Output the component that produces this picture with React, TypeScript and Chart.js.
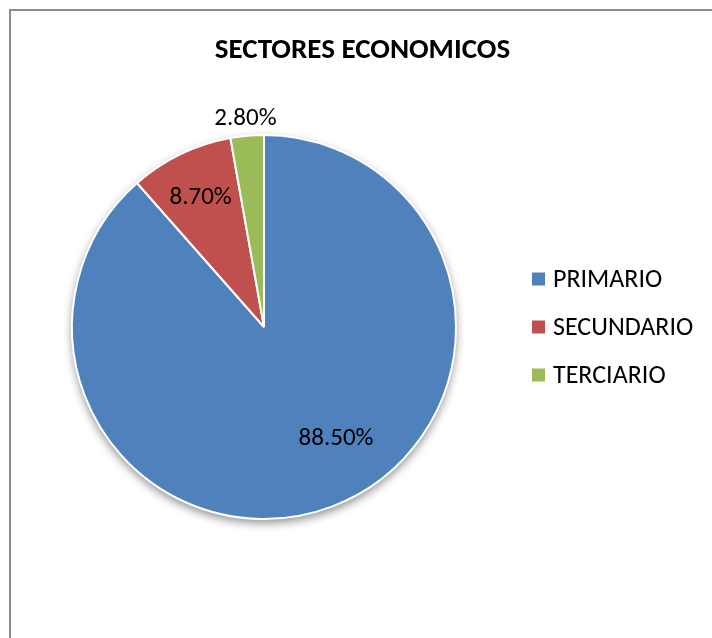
import React, { useEffect, useRef } from "react";
import { Chart, registerables } from "chart.js";

Chart.register(...registerables);

const titleText = "SECTORES ECONOMICOS";
const categories = ["PRIMARIO", "SECUNDARIO", "TERCIARIO"];
const values = [88.5, 8.7, 2.8];
const colors = ["#4F81BD", "#C0504D", "#9BBB59"];
// label placement: radius factor and angle shift (degrees) relative to slice mid-angle
const labelRadius = [0.685, 0.76, 1.1];
const labelAngleShift = [-12.5, 0, 0];

const FONT = "Carlito, Calibri, Lato, sans-serif";

const shadowPlugin = {
  id: "pieShadow",
  beforeDatasetsDraw(chart: any) {
    const meta = chart.getDatasetMeta(0);
    const arc = meta.data[0];
    if (!arc) return;
    const ctx = chart.ctx;
    ctx.save();
    ctx.shadowColor = "rgba(0,0,0,0.45)";
    ctx.shadowBlur = 10;
    ctx.shadowOffsetY = 4;
    ctx.fillStyle = "#ffffff";
    ctx.beginPath();
    ctx.arc(arc.x, arc.y, arc.outerRadius, 0, Math.PI * 2);
    ctx.fill();
    ctx.restore();
  },
};

const decorPlugin = {
  id: "decor",
  afterDatasetsDraw(chart: any) {
    const ctx = chart.ctx;
    const meta = chart.getDatasetMeta(0);
    const w = chart.width;
    // title
    ctx.save();
    ctx.fillStyle = "#000";
    ctx.font = `bold 29px ${FONT}`;
    ctx.textAlign = "center";
    ctx.textBaseline = "alphabetic";
    ctx.fillText(titleText, w / 2 + 1, 47);

    // data labels
    const labelSize = 25;
    ctx.font = `${labelSize}px ${FONT}`;
    meta.data.forEach((arc: any, i: number) => {
      const mid = (arc.startAngle + arc.endAngle) / 2 + (labelAngleShift[i] * Math.PI) / 180;
      const r = arc.outerRadius * labelRadius[i];
      const x = arc.x + Math.cos(mid) * r;
      const y = arc.y + Math.sin(mid) * r;
      ctx.fillText(values[i].toFixed(2) + "%", x, y + labelSize * 0.33);
    });

    // legend
    const first = meta.data[0];
    const cy = first.y;
    const spacing = 48;
    const boxX = 521;
    const box = 13;
    const legendSize = 26;
    ctx.textAlign = "left";
    ctx.font = `${legendSize}px ${FONT}`;
    categories.forEach((c, i) => {
      const y = cy + (i - 1) * spacing;
      ctx.fillStyle = colors[i];
      ctx.fillRect(boxX, y - box / 2, box, box);
      ctx.fillStyle = "#000";
      ctx.fillText(c, boxX + 21, y + legendSize * 0.32);
    });
    ctx.restore();
  },
};

export default function App() {
  const ref = useRef<HTMLCanvasElement | null>(null);
  useEffect(() => {
    document.body.style.overflow = "hidden";
    const canvas = ref.current!;
    const chart = new Chart(canvas, {
      type: "pie",
      data: {
        labels: categories,
        datasets: [
          {
            data: values,
            backgroundColor: colors,
            borderColor: "#ffffff",
            borderWidth: 2,
            radius: 192,
          } as any,
        ],
      },
      options: {
        responsive: false,
        animation: false,
        layout: { padding: { left: 61, right: 256, top: 124, bottom: 119 } },
        plugins: {
          legend: { display: false },
          title: { display: false },
          tooltip: { enabled: false },
        },
      },
      plugins: [shadowPlugin, decorPlugin],
    });
    return () => chart.destroy();
  }, []);
  return (
    <div
      style={{
        position: "absolute",
        left: 9,
        top: 9,
        width: 701,
        height: 627,
        borderTop: "2px solid #8c8c8c",
        borderLeft: "2px solid #8c8c8c",
        background: "#fff",
      }}
    >
      <canvas ref={ref} width={701} height={627} style={{ display: "block" }} />
    </div>
  );
}
